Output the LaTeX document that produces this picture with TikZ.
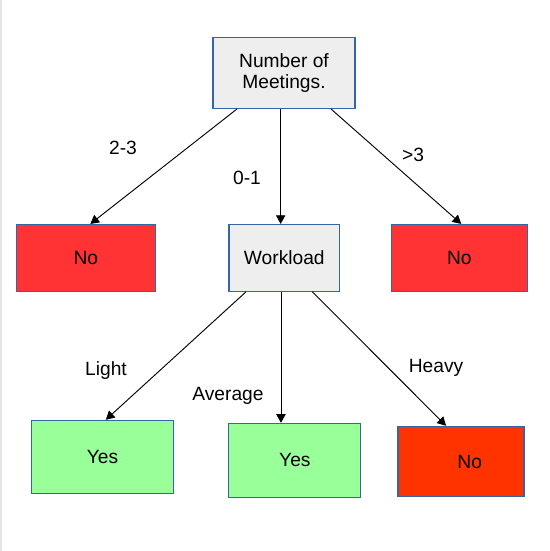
\documentclass[tikz,border=0pt]{standalone}
\usepackage{fontspec}
\setmainfont{Liberation Sans}
\usetikzlibrary{arrows.meta}

\definecolor{boxline}{HTML}{3465A4}
\definecolor{askgray}{HTML}{EEEEEE}
\definecolor{nored}{HTML}{FF3333}
\definecolor{nodeep}{HTML}{FF3300}
\definecolor{yesgreen}{HTML}{99FF99}

\tikzset{
  box/.style={draw=boxline, line width=0.8pt, inner sep=0pt, align=center},
  branch/.style={-{Triangle[length=6.5pt,width=7pt]}, line width=0.7pt},
  cond/.style={inner sep=0pt}
}

\begin{document}
\begin{tikzpicture}[x=0.75pt, y=-0.75pt,
    every node/.style={font=\fontsize{14.4}{16.3}\selectfont}]
      \useasboundingbox (0,0) rectangle (550,551);
      \fill[gray!22] (0,0) rectangle (2,551);
      % tree
      \node [box,fill=askgray,minimum width=106.5pt,minimum height=53pt] (meet) at (284,73) {Number of\\Meetings.};
      \node [box,fill=nored,minimum width=104pt,minimum height=50pt] (noA) at (85.8,257.8) {No};
      \node [box,fill=askgray,minimum width=83pt,minimum height=50pt] (work) at (284.3,257.8) {Workload};
      \node [box,fill=nored,minimum width=101.5pt,minimum height=50pt] (noB) at (459.4,257.8) {No};
      \node [box,fill=yesgreen,minimum width=106.3pt,minimum height=55pt] (yesA) at (102.6,457) {Yes};
      \node [box,fill=yesgreen,minimum width=99pt,minimum height=55.3pt] (yesB) at (294.9,460.2) {Yes};
      \node [box,fill=nodeep,minimum width=94.5pt,minimum height=52.8pt] (noC) at (461,461.5) {\hspace{13pt}No};
      % edges
      \draw [branch] ([xshift=18.5pt]meet.south west) -- ([xshift=55.8pt]noA.north west);
      \draw [branch] ([xshift=-2.5pt]meet.south) -- ([xshift=-2.5pt]meet.south |- work.north);
      \draw [branch] ([xshift=-18.5pt]meet.south east) -- ([xshift=1.4pt]noB.north);
      \draw [branch] ([xshift=13.3pt]work.south west) -- ([xshift=2.4pt]yesA.north);
      \draw [branch] ([xshift=-2.5pt]work.south) -- ([xshift=-2.5pt]work.south |- yesB.north);
      \draw [branch] ([xshift=-21pt]work.south east) -- ([xshift=-11.2pt]noC.north);
      % labels
      \node [cond] (lowmeet) at (123,148) {2-3};
      \node [cond] (fewmeet) at (247,178) {0-1};
      \node [cond] (manymeet) at (413,155) {>3};
      \node [cond] (light) at (106,371) {Light};
      \node [cond] (average) at (228,396) {Average};
      \node [cond] (heavy) at (436,368) {Heavy};
    \end{tikzpicture}
\end{document}
